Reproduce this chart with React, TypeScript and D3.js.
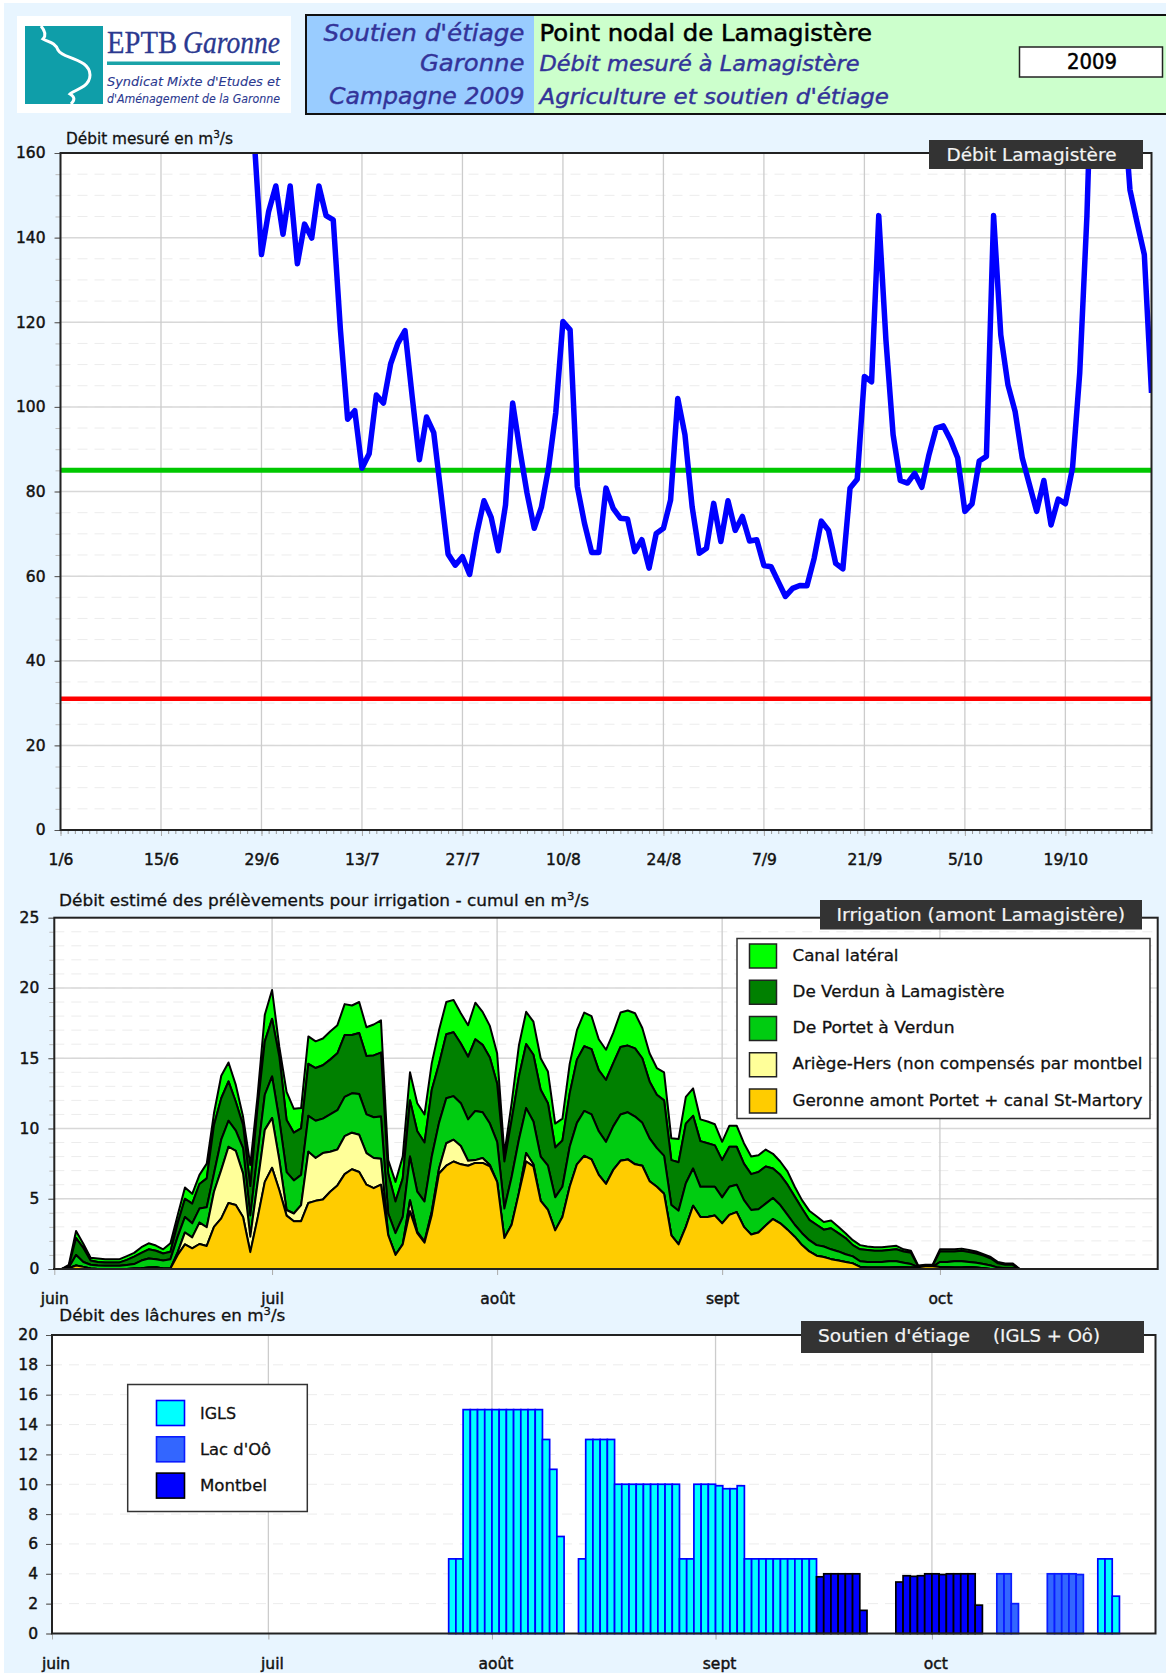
import { useEffect, useRef } from 'react';
import * as d3 from 'd3';

// Débit mesuré à Lamagistère, one value per day, starting at day 27 (28/6)
const debitStartDay = 27;
const debit = [
  163, 136, 146.2, 152.2, 140.8, 152.2, 133.8, 143.2, 139.9, 152.2, 145.2, 144.2, 118.2, 97.1, 99.1, 85.5, 88.9, 102.8,
  100.9, 110.2, 115, 118, 102.4, 87.5, 97.6, 93.9, 79.6, 65.2, 62.6, 64.6, 60.4, 70.1, 77.8, 73.9, 66, 76.8, 100.9, 89.8,
  79.6, 71.3, 76.3, 85.6, 98.6, 120.2, 118.2, 81.2, 72.5, 65.6, 65.6, 80.8, 76, 73.7, 73.5, 65.8, 68.6, 61.9, 70.1, 71.3,
  78, 102, 93.4, 76.4, 65.4, 66.6, 77.2, 68.2, 77.8, 70.8, 74.1, 68.3, 68.6, 62.5, 62.2, 58.7, 55.2, 57.1, 57.8, 57.7,
  64.2, 73, 70.8, 63, 61.7, 80.8, 82.9, 107.2, 105.9, 145.2, 115.8, 93.4, 82.6, 82, 84.3, 81, 88.7, 95, 95.5, 92.2, 87.9,
  75.3, 77.1, 87.2, 88.3, 145.2, 117, 105.2, 98.9, 87.9, 81.6, 75.3, 82.6, 72.1, 78.2, 77.1, 85.6, 108, 145, 200, 230,
  230, 205, 174, 151.3, 143.5, 136, 103.3,
];
const seuilVert = 85;
const seuilRouge = 31;
const debitTickDays = [0, 14, 28, 42, 56, 70, 84, 98, 112, 126, 140];
const debitTickLabels = ['1/6', '15/6', '29/6', '13/7', '27/7', '10/8', '24/8', '7/9', '21/9', '5/10', '19/10'];

// Irrigation: cumulated top of each layer, one value per day from 1/6
const garonneTop = [
  0, 0, 0.05, 0.25, 0.15, 0.03, 0, 0, 0, 0,
  0, 0.03, 0.05, 0.1, 0.12, 0.03, 0.03, 1, 1.75, 1.47,
  1.78, 1.64, 3, 3.6, 4.7, 4.55, 3.7, 1.2, 3.6, 6.2,
  7.2, 5.6, 3.8, 3.4, 3.4, 4.7, 4.85, 4.95, 5.5, 5.95,
  6.75, 7.1, 6.9, 6, 5.75, 6, 2.4, 1, 1.75, 4.1,
  2.55, 1.87, 3.85, 6.8, 7.35, 7.65, 7.45, 7.35, 7.55, 7.55,
  7.3, 6.2, 2.2, 3.15, 5.4, 7.65, 7.3, 4.85, 4.2, 2.75,
  3.7, 5.85, 7.45, 8.05, 7.8, 6.7, 6.05, 7.05, 7.7, 7.8,
  7.45, 7.35, 6.25, 5.85, 5.35, 2.4, 1.75, 3, 4.5, 3.7,
  3.7, 3.8, 3.25, 3.85, 4.05, 3, 2.45, 2.6, 3.1, 3.55,
  3.25, 2.8, 2.3, 1.7, 1.25, 0.95, 0.85, 0.7, 0.6, 0.5,
  0.4, 0.15, 0.1, 0.1, 0.1, 0.1, 0.12, 0.12, 0.1, 0.12,
  0.2, 0.2, 0.15, 0.12, 0.1, 0.1, 0.15, 0.1, 0.05, 0,
  0, 0, 0, 0,
];
// after mid august the Ariège layer is empty, so it stops at the Garonne top
const ariegeHead = [
  0, 0, 0.05, 0.25, 0.15, 0.03, 0, 0, 0, 0,
  0, 0.03, 0.05, 0.1, 0.12, 0.03, 0.03, 1.2, 2.6, 2.25,
  3.3, 2.97, 5.5, 7.05, 8.7, 8.4, 6.8, 2.3, 6.1, 9.9,
  10.75, 7.75, 4.2, 3.95, 4.55, 8.35, 7.9, 8.25, 8.35, 8.5,
  9.45, 9.7, 9.55, 8.25, 7.9, 7.85, 2.4, 1, 1.75, 4.9,
  2.65, 1.95, 4.1, 7.15, 8.95, 9.2, 8.75, 7.7, 7.75, 7.9,
  7.4, 6.2, 2.2, 3.15, 5.4, 8.25, 7.45,
];
const portetTop = [
  0, 0, 0.1, 1, 0.5, 0.3, 0.25, 0.23, 0.23, 0.23,
  0.28, 0.35, 0.6, 0.75, 0.7, 0.6, 0.7, 2.3, 3.7, 3.25,
  4.3, 4.4, 6.8, 9.2, 10.55, 9.85, 8.6, 3.8, 8.2, 12.4,
  13.7, 10.6, 6.9, 6.3, 6.7, 10.9, 10.55, 10.7, 11, 11.3,
  12.25, 12.5, 12.45, 11, 10.8, 10.85, 3.95, 2.55, 3.7, 8,
  5.5, 4.8, 8, 10.4, 12.15, 12.3, 11.8, 10.65, 11.25, 11.15,
  10.35, 9.05, 4.3, 6.55, 9.2, 11.45, 10.5, 8, 7.35, 5.1,
  5.85, 8.7, 10.4, 11.25, 11, 9.8, 9.05, 10.15, 11, 11.15,
  10.85, 10.4, 9.3, 8.6, 8.05, 4.55, 4.15, 6.1, 7.15, 5.85,
  5.85, 5.85, 5.1, 5.85, 6, 4.9, 4.2, 4.25, 4.65, 5.05,
  4.55, 3.85, 3.15, 2.55, 2.05, 1.7, 1.6, 1.4, 1.25, 1.05,
  0.9, 0.55, 0.5, 0.5, 0.5, 0.55, 0.55, 0.45, 0.35, 0.15,
  0.15, 0.15, 0.5, 0.5, 0.55, 0.55, 0.5, 0.45, 0.35, 0.25,
  0.1, 0.05, 0.05, 0,
];
const verdunTop = [
  0, 0, 0.2, 2.2, 1.5, 0.6, 0.5, 0.47, 0.47, 0.47,
  0.65, 0.88, 1.15, 1.4, 1.3, 1.1, 1.23, 3.25, 5, 4.65,
  6.05, 6.45, 10.25, 12.15, 13.35, 11.9, 10.25, 5.9, 11.5, 16.2,
  17.8, 15.1, 10.6, 9.7, 10, 14.6, 14.3, 14.5, 14.9, 15.35,
  16.65, 16.65, 16.8, 15.15, 15.2, 15.4, 6.8, 4.8, 6.45, 12,
  9.8, 9, 12.75, 14.6, 16.7, 16.85, 16.05, 15.1, 16.35, 15.95,
  15.05, 13.2, 7.65, 10.6, 13.7, 16, 15.25, 12.75, 11.8, 8.65,
  9.15, 12.5, 14.9, 15.85, 15.65, 14.15, 13.45, 14.65, 15.8, 15.9,
  15.7, 15, 13.35, 12.4, 12, 7.75, 7.6, 10.35, 10.9, 9.1,
  8.95, 8.8, 7.75, 8.7, 8.7, 7.5, 6.75, 6.9, 7.3, 7.15,
  6.7, 6, 5.15, 4.3, 3.5, 3.15, 2.8, 2.9, 2.55, 2.2,
  1.7, 1.4, 1.35, 1.3, 1.3, 1.35, 1.4, 1.25, 1.15, 0.2,
  0.25, 0.25, 1.25, 1.25, 1.25, 1.3, 1.2, 1.1, 0.95, 0.75,
  0.4, 0.3, 0.3, 0,
];
const canalTop = [
  0, 0, 0.3, 2.7, 1.8, 0.8, 0.75, 0.7, 0.7, 0.7,
  0.92, 1.15, 1.55, 1.83, 1.67, 1.4, 1.83, 3.85, 5.8, 5.35,
  6.7, 7.5, 11.1, 13.75, 14.7, 13.1, 10.85, 7.4, 12.3, 18.1,
  19.85, 15.8, 12.6, 11.4, 11.45, 16.55, 16.2, 16.4, 16.9, 17.35,
  18.85, 18.75, 19, 17.2, 17.4, 17.7, 7.75, 6.2, 8, 14,
  11.8, 11, 14.65, 17, 19, 19.15, 18.2, 17.35, 18.95, 18.3,
  17.3, 15.35, 8.2, 11.8, 15.9, 18.3, 17.6, 15, 14.05, 10.35,
  10.7, 14.6, 17, 18.25, 18, 16.35, 15.6, 16.8, 18.25, 18.4,
  18.2, 17.15, 15.35, 14.3, 14, 9.3, 9.25, 12.25, 12.85, 10.65,
  10.5, 10.3, 9.05, 10.2, 10.2, 8.95, 8, 8.1, 8.5, 8.2,
  7.65, 6.95, 5.85, 4.9, 4.15, 3.75, 3.35, 3.45, 3, 2.55,
  2.05, 1.7, 1.6, 1.55, 1.55, 1.6, 1.65, 1.4, 1.3, 0.25,
  0.3, 0.3, 1.4, 1.4, 1.4, 1.45, 1.35, 1.25, 1.05, 0.85,
  0.5, 0.4, 0.4, 0,
];
const irrigationNames = [
  'Canal latéral',
  'De Verdun à Lamagistère',
  'De Portet à Verdun',
  'Ariège-Hers (non compensés par montbel',
  'Geronne amont Portet + canal St-Martory',
];
const irrigationColors = ['#00ff00', '#008000', '#00cc11', '#ffff99', '#ffcc00'];

const monthDays = [0, 30, 61, 92, 122];
const monthLabels = ['juin', 'juil', 'août', 'sept', 'oct'];

// Lâchures: [day since 1/6, m3/s]
const igls = [
  [55, 5], [56, 5], [57, 15], [58, 15], [59, 15], [60, 15], [61, 15], [62, 15], [63, 15], [64, 15], [65, 15], [66, 15],
  [67, 15], [68, 13], [69, 11], [70, 6.5], [73, 5], [74, 13], [75, 13], [76, 13], [77, 13], [78, 10], [79, 10], [80, 10],
  [81, 10], [82, 10], [83, 10], [84, 10], [85, 10], [86, 10], [87, 5], [88, 5], [89, 10], [90, 10], [91, 10], [92, 9.9],
  [93, 9.7], [94, 9.7], [95, 9.9], [96, 5], [97, 5], [98, 5], [99, 5], [100, 5], [101, 5], [102, 5], [103, 5], [104, 5],
  [105, 5], [145, 5], [146, 5], [147, 2.5],
];
const lacOo = [[131, 4], [132, 4], [133, 2], [138, 4], [139, 4], [140, 4], [141, 4], [142, 3.95]];
const montbel = [
  [106, 3.8], [107, 4], [108, 4], [109, 4], [110, 4], [111, 4], [112, 1.55], [117, 3.45], [118, 3.87], [119, 3.83],
  [120, 3.87], [121, 4], [122, 4], [123, 3.95], [124, 4], [125, 4], [126, 4], [127, 4], [128, 1.9],
];
const lachureNames = ['IGLS', "Lac d'Oô", 'Montbel'];
const lachureFills = ['#00ffff', '#3366ff', '#0000ff'];
const lachureStrokes = ['#0000ff', '#0a1cff', '#000000'];

const FONT = '"DejaVu Sans", sans-serif';

function label(parent, x, y, str, opts: any = {}) {
  const fill = opts.fill || '#111';
  const t = parent
    .append('text')
    .attr('x', x)
    .attr('y', y)
    .attr('font-family', opts.family || FONT)
    .attr('font-size', opts.size || 16)
    .attr('fill', fill)
    .attr('stroke', fill)
    .attr('stroke-width', opts.weight ?? 0.3)
    .attr('text-anchor', opts.anchor || 'start')
    .text(str);
  if (opts.italic) t.attr('font-style', 'italic');
  if (opts.len) t.attr('textLength', opts.len).attr('lengthAdjust', 'spacingAndGlyphs');
  return t;
}

// title with a raised 3 in m3/s
function unitTitle(parent, x, y, before, len) {
  const t = parent
    .append('text')
    .attr('x', x)
    .attr('y', y)
    .attr('font-family', FONT)
    .attr('font-size', 16)
    .attr('fill', '#111')
    .attr('stroke', '#111')
    .attr('stroke-width', 0.3)
    .attr('textLength', len)
    .attr('lengthAdjust', 'spacingAndGlyphs');
  t.append('tspan').text(before);
  t.append('tspan').attr('dy', -6).attr('font-size', 11).text('3');
  t.append('tspan').attr('dy', 6).text('/s');
}

function darkBox(parent, x, y, w, h, str, tx, ty, tlen) {
  parent.append('rect').attr('x', x).attr('y', y).attr('width', w).attr('height', h).attr('fill', '#333333');
  label(parent, tx, ty, str, { fill: '#f4f4f4', size: 18, len: tlen, weight: 0.2 });
}

function styleAxis(g, tickColor = '#555') {
  g.select('.domain').remove();
  g.selectAll('line').attr('stroke', tickColor);
  g.selectAll('text')
    .attr('font-family', FONT)
    .attr('font-size', 15.5)
    .attr('fill', '#111')
    .attr('stroke', '#111')
    .attr('stroke-width', 0.45);
}

// plot background, grids, axes (frame itself is drawn later, over the data)
function plotBase(svg, x, y, cfg) {
  const [x0, x1] = x.range();
  const [y0, y1] = y.range();
  svg
    .append('rect')
    .attr('x', x0)
    .attr('y', y1)
    .attr('width', x1 - x0)
    .attr('height', y0 - y1)
    .attr('fill', '#fff');

  const grid = svg.append('g');
  grid
    .selectAll('line.minor')
    .data(cfg.minorY)
    .enter()
    .append('line')
    .attr('x1', x0)
    .attr('x2', x1)
    .attr('y1', d => y(d))
    .attr('y2', d => y(d))
    .attr('stroke', '#ececec')
    .attr('stroke-width', 1)
    .attr('stroke-dasharray', '10 7');
  grid
    .selectAll('line.major')
    .data(cfg.majorY)
    .enter()
    .append('line')
    .attr('x1', x0)
    .attr('x2', x1)
    .attr('y1', d => y(d))
    .attr('y2', d => y(d))
    .attr('stroke', '#d8d8d8')
    .attr('stroke-width', 1.5);
  grid
    .selectAll('line.vert')
    .data(cfg.tickDays)
    .enter()
    .append('line')
    .attr('x1', d => x(d))
    .attr('x2', d => x(d))
    .attr('y1', y1)
    .attr('y2', y0)
    .attr('stroke', '#cccccc')
    .attr('stroke-width', 1.3);

  // y axis, minor ticks then labelled ones
  svg
    .append('g')
    .attr('transform', `translate(${x0},0)`)
    .call(d3.axisLeft(y).tickValues(cfg.minorY).tickSize(5).tickFormat(() => ''))
    .call(styleAxis, '#bbb');
  svg
    .append('g')
    .attr('transform', `translate(${x0},0)`)
    .call(d3.axisLeft(y).tickValues(cfg.labelY).tickSize(6).tickPadding(cfg.padY))
    .call(styleAxis);

  // x axis
  if (cfg.minorX) {
    svg
      .append('g')
      .attr('transform', `translate(0,${y0})`)
      .call(d3.axisBottom(x).tickValues(cfg.minorX).tickSize(4).tickFormat(() => ''))
      .call(styleAxis, '#999');
  }
  const xAxis = svg
    .append('g')
    .attr('transform', `translate(0,${y0})`)
    .call(
      d3
        .axisBottom(x)
        .tickValues(cfg.tickDays)
        .tickSize(6)
        .tickPadding(cfg.padX)
        .tickFormat((d, i) => cfg.tickLabels[i])
    )
    .call(styleAxis, '#aaa');
  xAxis.selectAll('text').attr('dx', cfg.labelShift || 0);
}

function plotFrame(svg, x, y) {
  const [x0, x1] = x.range();
  const [y0, y1] = y.range();
  svg
    .append('rect')
    .attr('x', x0)
    .attr('y', y1)
    .attr('width', x1 - x0)
    .attr('height', y0 - y1)
    .attr('fill', 'none')
    .attr('stroke', '#222')
    .attr('stroke-width', 2);
}

function drawHeader(svg) {
  // logo
  svg.append('rect').attr('x', 17).attr('y', 16).attr('width', 274).attr('height', 97).attr('fill', '#fff');
  svg.append('rect').attr('x', 25).attr('y', 26).attr('width', 78).attr('height', 78).attr('fill', '#0f9ea9');
  svg
    .append('path')
    .attr('d', 'M41,26 C46,32 46,36 43,39 C48,42 55,42 58,50 C62,57 72,56 84,64 C92,70 92,80 84,86 C78,90 72,92 70,94 C75,97 75,100 71,104')
    .attr('fill', 'none')
    .attr('stroke', '#fff')
    .attr('stroke-width', 3);
  const navy = '#2b3990';
  const serif = '"Liberation Serif", serif';
  label(svg, 107, 53, 'EPTB', { family: serif, size: 31, fill: navy, len: 70 });
  label(svg, 183, 53, 'Garonne', { family: serif, size: 31, fill: navy, italic: true, len: 97 });
  svg.append('rect').attr('x', 107).attr('y', 61.5).attr('width', 173).attr('height', 3.5).attr('fill', '#1aa3a8');
  label(svg, 107, 86, "Syndicat Mixte d'Etudes et", { size: 12, fill: navy, italic: true, len: 173, weight: 0.1 });
  label(svg, 107, 103, "d'Aménagement de la Garonne", { size: 12, fill: navy, italic: true, len: 173, weight: 0.1 });

  // title band
  svg.append('rect').attr('x', 306).attr('y', 15).attr('width', 228).attr('height', 99).attr('fill', '#99ccff');
  svg.append('rect').attr('x', 534).attr('y', 15).attr('width', 632).attr('height', 99).attr('fill', '#ccffcc');
  svg
    .append('rect')
    .attr('x', 306)
    .attr('y', 15)
    .attr('width', 870)
    .attr('height', 99)
    .attr('fill', 'none')
    .attr('stroke', '#111')
    .attr('stroke-width', 2);
  const blue = '#333399';
  label(svg, 323.5, 41, "Soutien d'étiage", { size: 23, fill: blue, italic: true, len: 201, weight: 0.4 });
  label(svg, 420, 71, 'Garonne', { size: 23, fill: blue, italic: true, len: 104.5, weight: 0.4 });
  label(svg, 329, 104, 'Campagne 2009', { size: 23, fill: blue, italic: true, len: 195.5, weight: 0.4 });
  label(svg, 539.5, 41, 'Point nodal de Lamagistère', { size: 23, fill: '#000', len: 332.5, weight: 0.5 });
  label(svg, 539.5, 71, 'Débit mesuré à Lamagistère', { size: 21, fill: blue, italic: true, len: 320, weight: 0.4 });
  label(svg, 539.5, 104, "Agriculture et soutien d'étiage", { size: 21, fill: blue, italic: true, len: 349.5, weight: 0.4 });
  svg
    .append('rect')
    .attr('x', 1019.5)
    .attr('y', 47)
    .attr('width', 143)
    .attr('height', 30)
    .attr('fill', '#fff')
    .attr('stroke', '#222')
    .attr('stroke-width', 1.5);
  label(svg, 1067, 69, '2009', { size: 21, fill: '#000', len: 50, weight: 0.5 });
}

function drawDebit(svg) {
  const x = d3.scaleLinear().domain([0, 152]).range([60.5, 1151.5]);
  const y = d3.scaleLinear().domain([0, 160]).range([830, 153]);

  unitTitle(svg, 66, 144, 'Débit mesuré en m', 167);
  plotBase(svg, x, y, {
    minorY: d3.range(0, 161, 5),
    majorY: d3.range(20, 160, 20),
    labelY: d3.range(0, 161, 20),
    padY: 9,
    tickDays: debitTickDays,
    tickLabels: debitTickLabels,
    minorX: d3.range(0, 153),
    padX: 18,
  });

  svg
    .append('clipPath')
    .attr('id', 'debit-clip')
    .append('rect')
    .attr('x', x.range()[0])
    .attr('y', y.range()[1])
    .attr('width', x.range()[1] - x.range()[0])
    .attr('height', y.range()[0] - y.range()[1]);

  const plot = svg.append('g').attr('clip-path', 'url(#debit-clip)');
  [
    [seuilVert, '#00c800', 5],
    [seuilRouge, '#ff0000', 4.5],
  ].forEach(([v, color, w]) => {
    plot
      .append('line')
      .attr('x1', x.range()[0])
      .attr('x2', x.range()[1])
      .attr('y1', y(v))
      .attr('y2', y(v))
      .attr('stroke', color)
      .attr('stroke-width', w);
  });

  const line = d3
    .line()
    .x((d, i) => x(debitStartDay + i))
    .y(d => y(d));
  plot
    .append('path')
    .attr('d', line(debit))
    .attr('fill', 'none')
    .attr('stroke', '#0000ff')
    .attr('stroke-width', 5.5)
    .attr('stroke-linejoin', 'round');

  plotFrame(svg, x, y);
  darkBox(svg, 929, 140, 214, 29, 'Débit Lamagistère', 946.5, 161, 170);
}

function drawIrrigation(svg) {
  const x = d3.scaleLinear().domain([0, 152]).range([54.3, 1157.7]);
  const y = d3.scaleLinear().domain([0, 25]).range([1269, 917.7]);

  unitTitle(svg, 59, 906, 'Débit estimé des prélèvements pour irrigation - cumul en m', 530);
  plotBase(svg, x, y, {
    minorY: d3.range(0, 26, 1),
    majorY: d3.range(5, 25, 5),
    labelY: d3.range(0, 26, 5),
    padY: 9,
    tickDays: monthDays,
    tickLabels: monthLabels,
    padX: 18,
  });

  const ariegeTop = garonneTop.map((g, i) => ariegeHead[i] ?? g);
  const bottoms = garonneTop.map(() => 0);
  const levels = [bottoms, garonneTop, ariegeTop, portetTop, verdunTop, canalTop];
  // drawn from the top layer down so that each black outline stays visible
  d3.range(levels.length - 1, 0, -1).forEach(k => {
    const area = d3
      .area()
      .x((d, i) => x(i))
      .y0((d, i) => y(levels[k - 1][i]))
      .y1(d => y(d));
    svg
      .append('path')
      .attr('d', area(levels[k]))
      .attr('fill', irrigationColors[levels.length - 1 - k])
      .attr('stroke', '#000')
      .attr('stroke-width', 2)
      .attr('stroke-linejoin', 'round');
  });

  plotFrame(svg, x, y);
  darkBox(svg, 820, 900, 322, 29.5, 'Irrigation (amont Lamagistère)', 836.5, 921, 288.5);

  svg
    .append('rect')
    .attr('x', 737)
    .attr('y', 938.5)
    .attr('width', 413)
    .attr('height', 180)
    .attr('fill', '#fff')
    .attr('stroke', '#333')
    .attr('stroke-width', 1.5);
  const legendLens = [106, 212, 162, 350, 350];
  irrigationNames.forEach((name, i) => {
    svg
      .append('rect')
      .attr('x', 749.5)
      .attr('y', 944 + i * 36.25)
      .attr('width', 27)
      .attr('height', 24)
      .attr('fill', irrigationColors[i])
      .attr('stroke', '#222')
      .attr('stroke-width', 1.5);
    label(svg, 792.5, 960.5 + i * 36.25, name, { size: 16, len: legendLens[i] });
  });
}

function drawLachures(svg) {
  const x = d3.scaleLinear().domain([0, 153]).range([52, 1155.5]);
  const y = d3.scaleLinear().domain([0, 20]).range([1633.5, 1335]);

  unitTitle(svg, 59.3, 1321, 'Débit des lâchures en m', 226);
  plotBase(svg, x, y, {
    minorY: d3.range(0, 21, 2),
    majorY: [],
    labelY: d3.range(0, 21, 2),
    padY: 8,
    tickDays: monthDays,
    tickLabels: monthLabels,
    padX: 18.5,
    labelShift: 3.5,
  });

  [igls, lacOo, montbel].forEach((series, k) => {
    svg
      .append('g')
      .selectAll('rect')
      .data(series)
      .enter()
      .append('rect')
      .attr('x', d => x(d[0]))
      .attr('width', d => x(d[0] + 1) - x(d[0]))
      .attr('y', d => y(d[1]))
      .attr('height', d => y(0) - y(d[1]))
      .attr('fill', lachureFills[k])
      .attr('stroke', lachureStrokes[k])
      .attr('stroke-width', 1.7);
  });

  plotFrame(svg, x, y);
  darkBox(svg, 801, 1321, 343, 32, "Soutien d'étiage", 818, 1342, 152);
  label(svg, 993, 1342, '(IGLS + Oô)', { fill: '#f4f4f4', size: 18, len: 107, weight: 0.2 });

  svg
    .append('rect')
    .attr('x', 127.7)
    .attr('y', 1384.5)
    .attr('width', 179.6)
    .attr('height', 127)
    .attr('fill', '#fff')
    .attr('stroke', '#333')
    .attr('stroke-width', 1.5);
  const lens = [36, 71, 67];
  lachureNames.forEach((name, i) => {
    svg
      .append('rect')
      .attr('x', 156.5)
      .attr('y', 1400.5 + i * 36.3)
      .attr('width', 28)
      .attr('height', 25)
      .attr('fill', lachureFills[i])
      .attr('stroke', lachureStrokes[i])
      .attr('stroke-width', 1.6);
    label(svg, 200, 1418.5 + i * 36.2, name, { size: 16, len: lens[i] });
  });
}

export default function App() {
  const svgRef = useRef(null);

  useEffect(() => {
    if (!svgRef.current) return;
    document.body.style.margin = '0';
    const svg = d3.select(svgRef.current);
    svg.selectAll('*').remove();
    svg.append('rect').attr('x', 4).attr('y', 3).attr('width', 1162).attr('height', 1670).attr('fill', '#e8f5ff');
    drawHeader(svg);
    drawDebit(svg);
    drawIrrigation(svg);
    drawLachures(svg);
  }, []);

  return <svg ref={svgRef} width={1166} height={1674} style={{ display: 'block', background: '#fff' }}></svg>;
}
